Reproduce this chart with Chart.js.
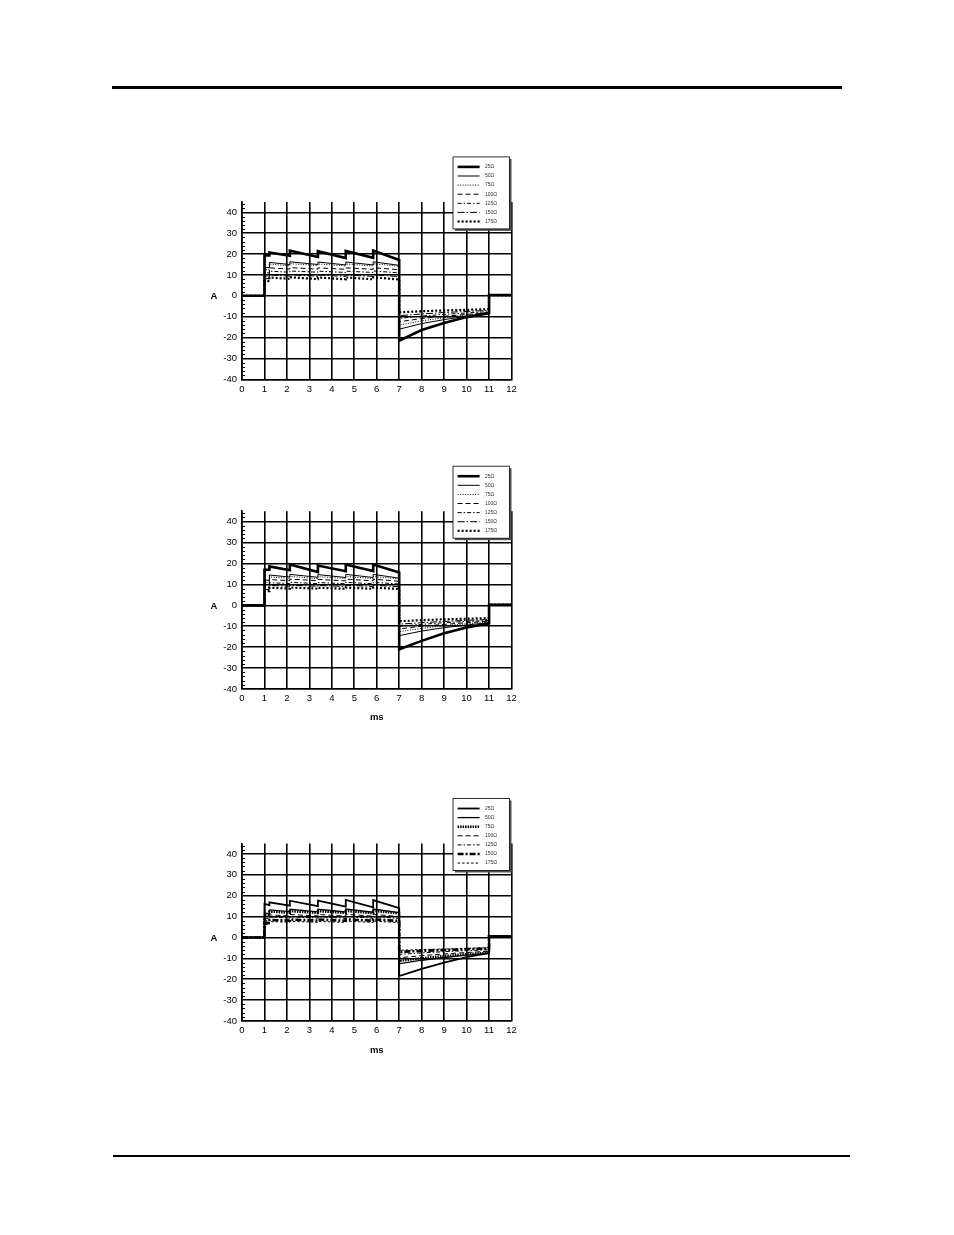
<!DOCTYPE html>
<html>
<head>
<meta charset="utf-8">
<script src="https://cdn.jsdelivr.net/npm/chart.js"></script>
<style>
  body { margin: 0; background: #fff; }
  .rule { position: absolute; background: #000; }
  canvas { position: absolute; }
</style>
</head>
<body>
<div class="rule" style="left:112px; top:86px; width:730px; height:3px;"></div>
<div class="rule" style="left:113px; top:1155px; width:737px; height:1.5px;"></div>
<canvas id="chart1" width="350" height="250" style="left:180px; top:150px;"></canvas>
<canvas id="chart2" width="350" height="275" style="left:180px; top:460px;"></canvas>
<canvas id="chart3" width="350" height="278" style="left:180px; top:790px;"></canvas>
<script>
// time points (ms), shared by all traces
var t = [0, 1, 1, 1.22, 1.22, 2.13, 2.13, 3.38, 3.38, 4.62, 4.62, 5.84, 5.84, 7, 7, 8, 9, 10, 11, 11, 12];
var labels = ["25Ω", "50Ω", "75Ω", "100Ω", "125Ω", "150Ω", "175Ω"];
var xTicks = [0, 1, 2, 3, 4, 5, 6, 7, 8, 9, 10, 11, 12];
var yTicks = [-40, -30, -20, -10, 0, 10, 20, 30, 40];

// chart 1
var c1_25  = [0, 0, 19.3, 19.3, 20.8, 19.2, 21.6, 18.6, 21.4, 18.1, 21.5, 18.2, 21.7, 17.2, -21.5, -16.4, -13.0, -10.2, -8.3, 0.4, 0.4];
var c1_50  = [0, 0, 13.5, 13.5, 16.0, 15.0, 16.3, 15.0, 16.2, 14.8, 16.2, 14.8, 16.3, 14.6, -16.0, -13.3, -11.4, -9.8, -8.6, 0.3, 0.3];
var c1_75  = [0, 0, 12.5, 12.5, 15.2, 14.4, 15.4, 14.5, 15.3, 14.3, 15.3, 14.3, 15.4, 14.1, -14.0, -12.0, -10.5, -9.3, -8.3, 0.3, 0.3];
var c1_100 = [0, 0, 11.0, 11.0, 13.4, 12.8, 13.5, 12.8, 13.4, 12.7, 13.4, 12.7, 13.5, 12.5, -12.4, -10.9, -9.8, -8.9, -8.0, 0.3, 0.3];
var c1_125 = [0, 0, 9.5, 9.5, 11.8, 11.3, 11.9, 11.3, 11.8, 11.2, 11.8, 11.2, 11.9, 11.0, -10.8, -9.7, -8.9, -8.2, -7.6, 0.3, 0.3];
var c1_150 = [0, 0, 8.2, 8.2, 10.0, 9.4, 10.1, 9.4, 10.0, 9.3, 10.0, 9.3, 10.1, 9.2, -9.5, -8.7, -8.0, -7.5, -7.0, 0.3, 0.3];
var c1_175 = [0, 0, 7.0, 7.0, 8.8, 8.1, 8.9, 8.0, 8.8, 7.9, 8.8, 7.9, 8.9, 7.8, -7.9, -7.4, -7.0, -6.7, -6.4, 0.3, 0.3];

// chart 2
var c2_25  = [0, 0, 17.0, 17.0, 18.6, 16.8, 19.5, 15.9, 19.0, 16.3, 19.5, 16.4, 19.5, 15.7, -21.0, -17.0, -13.4, -10.6, -8.6, 0.3, 0.3];
var c2_50  = [0, 0, 12.0, 12.0, 14.5, 13.5, 14.8, 13.4, 14.7, 13.3, 14.8, 13.3, 14.8, 13.0, -14.5, -12.3, -10.7, -9.4, -8.3, 0.3, 0.3];
var c2_75  = [0, 0, 11.0, 11.0, 13.6, 12.9, 13.8, 12.8, 13.7, 12.8, 13.8, 12.8, 13.8, 12.6, -12.6, -11.0, -9.8, -8.8, -8.0, 0.3, 0.3];
var c2_100 = [0, 0, 9.8, 9.8, 12.3, 11.8, 12.5, 11.8, 12.4, 11.7, 12.5, 11.7, 12.5, 11.5, -11.3, -10.0, -9.1, -8.3, -7.6, 0.3, 0.3];
var c2_125 = [0, 0, 8.7, 8.7, 10.8, 10.4, 11.0, 10.4, 10.9, 10.3, 11.0, 10.3, 11.0, 10.2, -10.0, -9.1, -8.3, -7.7, -7.2, 0.3, 0.3];
var c2_150 = [0, 0, 7.6, 7.6, 9.5, 9.1, 9.6, 9.1, 9.5, 9.0, 9.6, 9.0, 9.6, 8.9, -9.0, -8.3, -7.7, -7.2, -6.8, 0.3, 0.3];
var c2_175 = [0, 0, 6.8, 6.8, 8.4, 8.0, 8.5, 8.0, 8.4, 7.9, 8.5, 7.9, 8.5, 7.8, -7.6, -7.1, -6.7, -6.4, -6.1, 0.3, 0.3];

// chart 3
var c3_25  = [0, 0, 16.2, 15.4, 16.8, 15.2, 17.6, 15.0, 17.6, 14.8, 18.0, 14.4, 17.9, 14.0, -18.5, -15.0, -12.0, -9.4, -7.4, 0.6, 0.6];
var c3_50  = [0, 0, 11.5, 11.5, 13.2, 12.4, 13.5, 12.3, 13.5, 12.2, 13.6, 12.1, 13.6, 11.9, -12.6, -10.9, -9.6, -8.5, -7.6, 0.6, 0.6];
var c3_75  = [0, 0, 10.5, 10.5, 12.4, 11.8, 12.6, 11.7, 12.6, 11.7, 12.7, 11.6, 12.7, 11.5, -11.3, -9.9, -8.9, -8.0, -7.3, 0.6, 0.6];
var c3_100 = [0, 0, 9.0, 9.0, 10.8, 10.3, 11.0, 10.3, 11.0, 10.2, 11.1, 10.2, 11.1, 10.0, -9.7, -8.7, -7.9, -7.2, -6.6, 0.6, 0.6];
var c3_125 = [0, 0, 8.0, 8.0, 9.7, 9.3, 9.9, 9.3, 9.9, 9.2, 10.0, 9.2, 10.0, 9.1, -8.1, -7.4, -6.8, -6.3, -5.9, 0.6, 0.6];
var c3_150 = [0, 0, 7.0, 7.0, 8.4, 8.1, 8.6, 8.1, 8.6, 8.0, 8.7, 8.0, 8.7, 7.9, -6.9, -6.4, -6.0, -5.6, -5.3, 0.6, 0.6];
var c3_175 = [0, 0, 6.2, 6.2, 7.6, 7.3, 7.7, 7.3, 7.7, 7.2, 7.8, 7.2, 7.8, 7.1, -6.1, -5.8, -5.5, -5.2, -4.9, 0.6, 0.6];

// line styles [width, dash]
var stylesA = [[2.6, []], [1, []], [1, [1, 1.5]], [1, [5, 3]], [1, [4, 2, 1.5, 2]], [1, [7, 2, 1.5, 2]], [2.2, [2, 2]]];
var stylesB = [[1.8, []], [1.3, []], [2.4, [1.5, 1]], [1, [5, 3]], [1, [4, 2, 1.5, 2]], [2.6, [6, 2, 2, 2]], [1, [2.5, 2]]];

Chart.defaults.font.family = '"Liberation Sans", Arial, sans-serif';
Chart.defaults.color = '#000';

// boxed legend top right, drawn over the plot
var legendBox = {
  id: 'legendBox',
  afterDraw: function (chart) {
    var ctx = chart.ctx, area = chart.chartArea;
    var bx = area.right - 58.5, by = area.top - 45, bw = 56.5, bh = 72;
    ctx.save();
    ctx.fillStyle = '#555';
    ctx.fillRect(bx + 2, by + 2, bw, bh);
    ctx.fillStyle = '#fff';
    ctx.fillRect(bx, by, bw, bh);
    ctx.strokeStyle = '#000';
    ctx.lineWidth = 0.8;
    ctx.strokeRect(bx, by, bw, bh);
    chart.data.datasets.forEach(function (ds, i) {
      var y = by + 10 + i * 9.1;
      ctx.beginPath();
      ctx.setLineDash(ds.borderDash);
      ctx.lineWidth = ds.borderWidth;
      ctx.moveTo(bx + 4.6, y);
      ctx.lineTo(bx + 26.6, y);
      ctx.stroke();
      ctx.setLineDash([]);
      ctx.fillStyle = '#333';
      ctx.font = '5px "Liberation Sans", Arial';
      ctx.textBaseline = 'middle';
      ctx.fillText(ds.label, bx + 32, y);
    });
    ctx.restore();
  }
};

// minor y ticks and the horizontal "A" label
var axisExtras = {
  id: 'axisExtras',
  afterDraw: function (chart) {
    var ctx = chart.ctx, ys = chart.scales.y, left = chart.chartArea.left;
    ctx.save();
    ctx.strokeStyle = '#000';
    ctx.lineWidth = 1;
    for (var v = -38; v <= 44; v += 2) {
      if (v % 10 === 0) continue;
      var py = Math.round(ys.getPixelForValue(v)) + 0.5;
      ctx.beginPath();
      ctx.moveTo(left, py);
      ctx.lineTo(left + 3, py);
      ctx.stroke();
    }
    ctx.fillStyle = '#000';
    ctx.font = 'bold 9.5px "Liberation Sans", Arial';
    ctx.textAlign = 'center';
    ctx.textBaseline = 'middle';
    ctx.fillText('A', left - 28, ys.getPixelForValue(0) + 1);
    ctx.restore();
  }
};

function makeChart(id, series, styles, padTop, axisH, showTitle) {
  var ctx = document.getElementById(id);
  var datasets = series.map(function (vals, i) {
    return {
      label: labels[i],
      data: t.map(function (x, k) { return { x: x, y: vals[k] }; }),
      borderColor: '#000',
      borderWidth: styles[i][0],
      borderDash: styles[i][1],
      pointRadius: 0,
      tension: 0,
      fill: false
    };
  });
  return new Chart(ctx, {
    type: 'line',
    data: { datasets: datasets },
    plugins: [axisExtras, legendBox],
    options: {
      responsive: false,
      animation: false,
      layout: { padding: { top: padTop, right: 18.5, bottom: 0, left: 0 } },
      plugins: { legend: { display: false }, tooltip: { enabled: false } },
      scales: {
        x: {
          type: 'linear',
          min: 0,
          max: 12,
          afterBuildTicks: function (s) { s.ticks = xTicks.map(function (v) { return { value: v }; }); },
          afterFit: function (s) { s.height = axisH; },
          grid: { color: '#000', lineWidth: 1.6, drawTicks: false },
          border: { color: '#000', width: 1.6 },
          ticks: { padding: 4, font: { size: 9.5 }, maxRotation: 0 },
          title: {
            display: showTitle,
            text: 'ms',
            font: { size: 9.5, weight: 'bold' },
            padding: { top: 0, bottom: 12.3 }
          }
        },
        y: {
          min: -40,
          max: 45,
          afterBuildTicks: function (s) { s.ticks = yTicks.map(function (v) { return { value: v }; }); },
          afterFit: function (s) { s.width = 62; },
          grid: { color: '#000', lineWidth: 1.6, drawTicks: false },
          border: { color: '#000', width: 1.6 },
          ticks: { padding: 5, font: { size: 9.5 } }
        }
      }
    }
  });
}

makeChart('chart1', [c1_25, c1_50, c1_75, c1_100, c1_125, c1_150, c1_175], stylesA, 51.9, 20.7, false);
makeChart('chart2', [c2_25, c2_50, c2_75, c2_100, c2_125, c2_150, c2_175], stylesA, 51.2, 46, true);
makeChart('chart3', [c3_25, c3_50, c3_75, c3_100, c3_125, c3_150, c3_175], stylesB, 53.5, 47, true);
</script>
</body>
</html>
